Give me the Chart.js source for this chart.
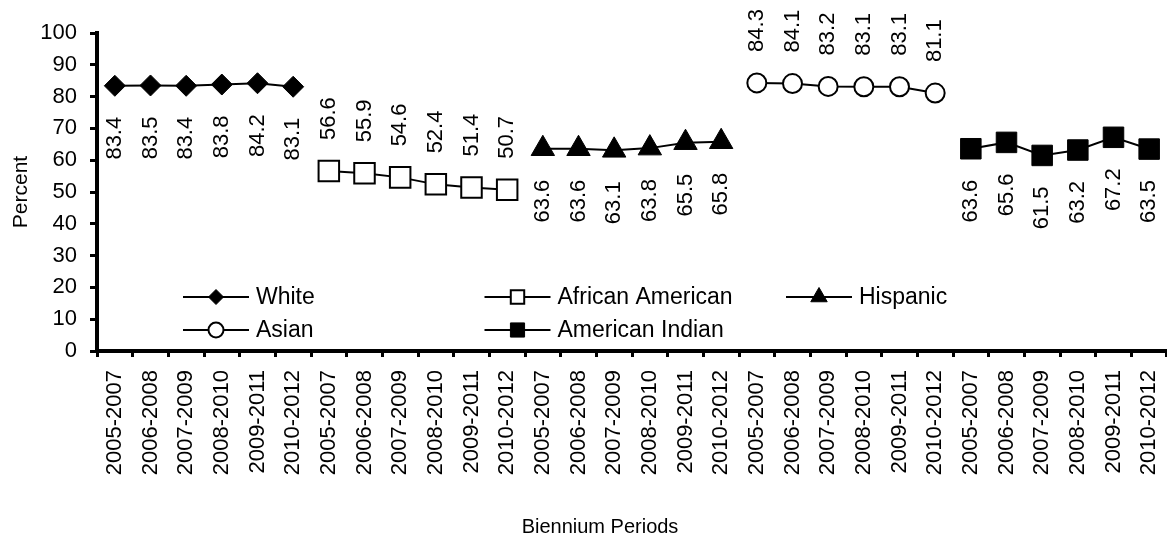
<!DOCTYPE html>
<html>
<head>
<meta charset="utf-8">
<script src="https://cdn.jsdelivr.net/npm/chart.js@4.4.0/dist/chart.umd.min.js"></script>
<style>
  html, body { margin: 0; padding: 0; background: #fff; }
</style>
</head>
<body>
<canvas id="chart" width="1167" height="542"></canvas>
<script>
const periods = ['2005-2007', '2006-2008', '2007-2009', '2008-2010', '2009-2011', '2010-2012']
const groups = ['White', 'African American', 'Hispanic', 'Asian', 'American Indian']

const white = [83.4, 83.5, 83.4, 83.8, 84.2, 83.1]
const africanAmerican = [56.6, 55.9, 54.6, 52.4, 51.4, 50.7]
const hispanic = [63.6, 63.6, 63.1, 63.8, 65.5, 65.8]
const asian = [84.3, 84.1, 83.2, 83.1, 83.1, 81.1]
const americanIndian = [63.6, 65.6, 61.5, 63.2, 67.2, 63.5]

const yTicks = [0, 10, 20, 30, 40, 50, 60, 70, 80, 90, 100]

// every group gets its own run of the six periods along the x axis
const categories = groups.flatMap(() => periods)

const place = (values, groupIndex) =>
  categories.map((_, i) => {
    const g = Math.floor(i / periods.length)
    return g === groupIndex ? values[i % periods.length] : null
  })

const FONT = '"Liberation Sans", Arial, sans-serif'

const series = [
  { values: white, style: 'rectRot', radius: 10.5, fill: '#000', border: 1, side: 'below', legendRadius: 7.5 },
  { values: africanAmerican, style: 'rect', radius: 14.5, fill: '#fff', border: 2, side: 'above', legendRadius: 9.5 },
  { values: hispanic, style: 'triangle', radius: 13.5, fill: '#000', border: 1, side: 'below', legendRadius: 9.5 },
  { values: asian, style: 'circle', radius: 9.5, fill: '#fff', border: 2, side: 'above', legendRadius: 7.5 },
  { values: americanIndian, style: 'rect', radius: 14.5, fill: '#000', border: 1, side: 'below', legendRadius: 10 }
]

// rotated value labels above or below each point
const valueLabels = {
  id: 'valueLabels',
  afterDatasetsDraw(chart) {
    const ctx = chart.ctx
    ctx.save()
    ctx.font = '22px ' + FONT
    ctx.fillStyle = '#000'
    ctx.textBaseline = 'middle'
    chart.data.datasets.forEach((ds, i) => {
      const meta = chart.getDatasetMeta(i)
      meta.data.forEach((pt, j) => {
        const v = ds.data[j]
        if (v == null) return
        const up = ds.labelSide === 'above'
        ctx.save()
        ctx.translate(pt.x, pt.y + (up ? -31 : 31))
        ctx.rotate(-Math.PI / 2)
        ctx.textAlign = up ? 'left' : 'right'
        ctx.fillText(v.toFixed(1), 0, 0)
        ctx.restore()
      })
    })
    ctx.restore()
  }
}

// legend sits inside the plot, three columns, two rows; x axis title under it all
const insideLegend = {
  id: 'insideLegend',
  afterDraw(chart) {
    const { ctx, chartArea } = chart
    const x0 = chartArea.left + 86
    const colW = 301.5
    const rowY = [chartArea.bottom - 54, chartArea.bottom - 21]
    ctx.save()
    ctx.font = '23px ' + FONT
    ctx.textBaseline = 'middle'
    ctx.textAlign = 'left'
    chart.data.datasets.forEach((ds, i) => {
      const x = x0 + (i % 3) * colW
      const y = rowY[Math.floor(i / 3)]
      ctx.strokeStyle = '#000'
      ctx.lineWidth = 2
      ctx.beginPath()
      ctx.moveTo(x, y)
      ctx.lineTo(x + 66, y)
      ctx.stroke()
      ctx.fillStyle = ds.pointBackgroundColor
      ctx.lineWidth = ds.pointBorderWidth
      Chart.helpers.drawPoint(ctx, {
        pointStyle: ds.pointStyle,
        rotation: 0,
        radius: ds.legendRadius,
        borderWidth: ds.pointBorderWidth
      }, x + 33, y)
      ctx.fillStyle = '#000'
      ctx.fillText(ds.label, x + 73, y + 1)
    })

    ctx.font = '20px ' + FONT
    ctx.textAlign = 'center'
    ctx.fillText('Biennium Periods', chartArea.left + 503, chart.height - 15)
    ctx.restore()
  }
}

new Chart(document.getElementById('chart'), {
  type: 'line',
  data: {
    labels: categories,
    datasets: series.map((s, i) => ({
      label: groups[i],
      data: place(s.values, i),
      borderColor: '#000',
      borderWidth: 2,
      pointStyle: s.style,
      pointRadius: s.radius,
      pointHoverRadius: s.radius,
      pointBackgroundColor: s.fill,
      pointBorderColor: '#000',
      pointBorderWidth: s.border,
      labelSide: s.side,
      legendRadius: s.legendRadius,
      spanGaps: false,
      clip: false
    }))
  },
  options: {
    responsive: false,
    animation: false,
    devicePixelRatio: 1,
    layout: {
      autoPadding: false,
      padding: { top: 33, right: 0, bottom: 0, left: 0 }
    },
    plugins: {
      legend: { display: false },
      tooltip: { enabled: false }
    },
    scales: {
      x: {
        offset: true,
        grid: {
          offset: true,
          drawOnChartArea: false,
          tickLength: 6,
          tickWidth: 3,
          tickColor: '#000'
        },
        border: { color: '#000', width: 4 },
        ticks: {
          autoSkip: false,
          maxRotation: 90,
          minRotation: 90,
          padding: 13,
          color: '#000',
          font: { family: FONT, size: 22 }
        },
        afterFit: (s) => {
          s.height = 191
          s.paddingLeft = 0
          s.paddingRight = 0
        }
      },
      y: {
        min: 0,
        max: 100,
        afterBuildTicks: (s) => { s.ticks = yTicks.map(v => ({ value: v })) },
        grid: {
          drawOnChartArea: false,
          tickLength: 7,
          tickWidth: 3,
          tickColor: '#000'
        },
        border: { color: '#000', width: 4 },
        ticks: {
          padding: 13,
          color: '#000',
          font: { family: FONT, size: 22 }
        },
        title: {
          display: true,
          text: 'Percent',
          color: '#000',
          font: { family: FONT, size: 21 },
          padding: { top: 9, bottom: 0 }
        },
        afterFit: (s) => { s.width = 97 }
      }
    }
  },
  plugins: [valueLabels, insideLegend]
})
</script>
</body>
</html>
